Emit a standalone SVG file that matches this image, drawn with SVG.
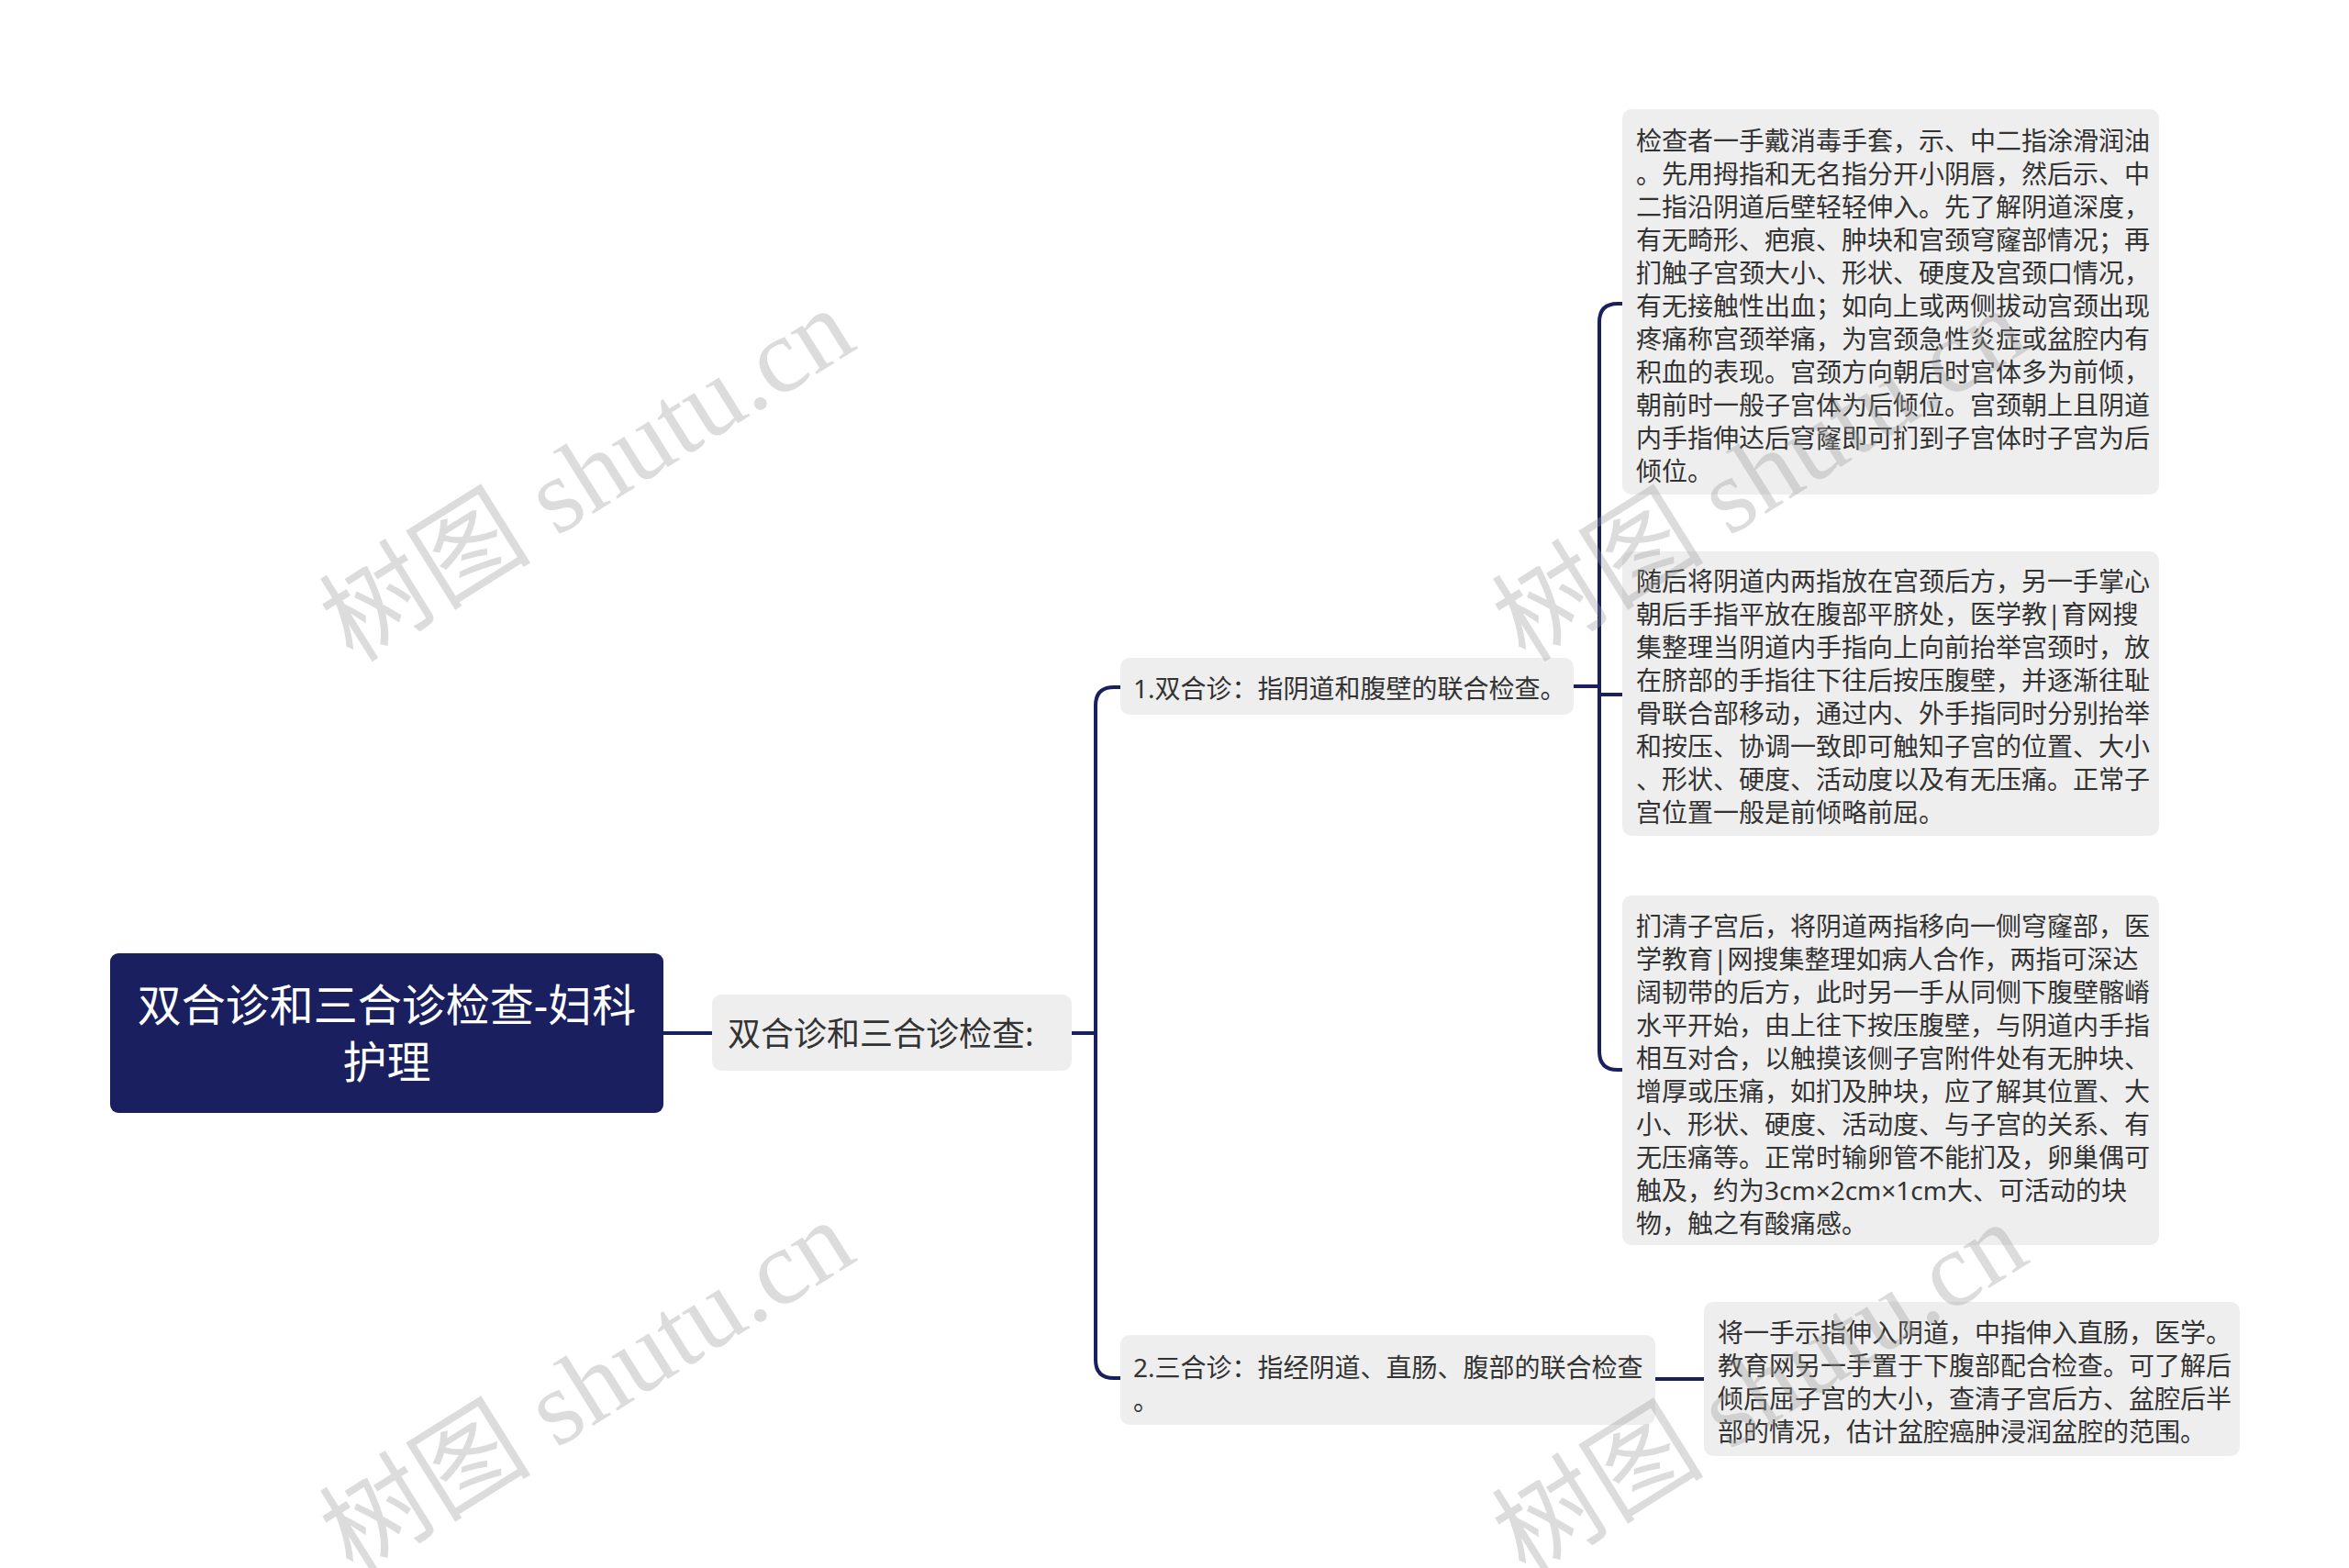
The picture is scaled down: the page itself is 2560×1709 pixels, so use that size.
<svg xmlns="http://www.w3.org/2000/svg" width="2560" height="1709" viewBox="0 0 2560 1709">
<style>
.bg{fill:#ffffff}
.root{fill:#1a1f5f}
.box{fill:#eeeeee}
.t{font-family:"Noto Sans","Noto Sans CJK SC",sans-serif;fill:#333333}
.rt{font-family:"Noto Sans","Noto Sans CJK SC",sans-serif;fill:#ffffff;font-size:48px}
.leaf{font-size:28px}
.conn{fill:none;stroke:#1a1f5f;stroke-width:4;stroke-linecap:butt}
.wm{font-family:"Liberation Serif","Noto Sans CJK SC",serif;font-size:116px;fill:#9a9a9a;fill-opacity:0.35}
</style>
<rect class="bg" x="0" y="0" width="2560" height="1709"/>
<g id="connectors">
<path class="conn" d="M723,1126 H776"/>
<path class="conn" d="M1168,1126 H1194"/>
<path class="conn" d="M1221,749 H1214 Q1194,749 1194,769 V1482 Q1194,1502 1214,1502 H1221"/>
<path class="conn" d="M1715,748 H1743"/>
<path class="conn" d="M1768,331 H1763 Q1743,331 1743,351 V1146 Q1743,1166 1763,1166 H1768"/>
<path class="conn" d="M1743,757 H1768"/>
<path class="conn" d="M1804,1503 H1857"/>
</g>
<g id="root">
<rect class="root" x="120" y="1039" width="603" height="174" rx="9"/>
<text class="rt" x="421.5" y="1113" text-anchor="middle">双合诊和三合诊检查-妇科</text>
<text class="rt" x="421.5" y="1175" text-anchor="middle">护理</text>
</g>
<g id="node-main">
<rect class="box" x="776" y="1084" width="392" height="83" rx="10"/>
<text class="t" x="793" y="1140" font-size="36">双合诊和三合诊检查:</text>
</g>
<g id="node-1">
<rect class="box" x="1221" y="717" width="494" height="62" rx="10"/>
<text class="t leaf" x="1235" y="761">1.双合诊：指阴道和腹壁的联合检查。</text>
</g>
<g id="node-2">
<rect class="box" x="1221" y="1455" width="583" height="98" rx="10"/>
<text class="t leaf" x="1235" y="1501">2.三合诊：指经阴道、直肠、腹部的联合检查</text>
<text class="t leaf" x="1235" y="1537">。</text>
</g>
<g id="leaf-1">
<rect class="box" x="1768" y="119" width="585" height="420" rx="10"/>
<text class="t leaf" x="1783" y="164">
<tspan x="1783" dy="0">检查者一手戴消毒手套，示、中二指涂滑润油</tspan>
<tspan x="1783" dy="36">。先用拇指和无名指分开小阴唇，然后示、中</tspan>
<tspan x="1783" dy="36">二指沿阴道后壁轻轻伸入。先了解阴道深度，</tspan>
<tspan x="1783" dy="36">有无畸形、疤痕、肿块和宫颈穹窿部情况；再</tspan>
<tspan x="1783" dy="36">扪触子宫颈大小、形状、硬度及宫颈口情况，</tspan>
<tspan x="1783" dy="36">有无接触性出血；如向上或两侧拔动宫颈出现</tspan>
<tspan x="1783" dy="36">疼痛称宫颈举痛，为宫颈急性炎症或盆腔内有</tspan>
<tspan x="1783" dy="36">积血的表现。宫颈方向朝后时宫体多为前倾，</tspan>
<tspan x="1783" dy="36">朝前时一般子宫体为后倾位。宫颈朝上且阴道</tspan>
<tspan x="1783" dy="36">内手指伸达后穹窿即可扪到子宫体时子宫为后</tspan>
<tspan x="1783" dy="36">倾位。</tspan>
</text>
</g>
<g id="leaf-2">
<rect class="box" x="1768" y="601" width="585" height="310" rx="10"/>
<text class="t leaf" x="1783" y="644">
<tspan x="1783" dy="0">随后将阴道内两指放在宫颈后方，另一手掌心</tspan>
<tspan x="1783" dy="36">朝后手指平放在腹部平脐处，医学教|育网搜</tspan>
<tspan x="1783" dy="36">集整理当阴道内手指向上向前抬举宫颈时，放</tspan>
<tspan x="1783" dy="36">在脐部的手指往下往后按压腹壁，并逐渐往耻</tspan>
<tspan x="1783" dy="36">骨联合部移动，通过内、外手指同时分别抬举</tspan>
<tspan x="1783" dy="36">和按压、协调一致即可触知子宫的位置、大小</tspan>
<tspan x="1783" dy="36">、形状、硬度、活动度以及有无压痛。正常子</tspan>
<tspan x="1783" dy="36">宫位置一般是前倾略前屈。</tspan>
</text>
</g>
<g id="leaf-3">
<rect class="box" x="1768" y="976" width="585" height="381" rx="10"/>
<text class="t leaf" x="1783" y="1020">
<tspan x="1783" dy="0">扪清子宫后，将阴道两指移向一侧穹窿部，医</tspan>
<tspan x="1783" dy="36">学教育|网搜集整理如病人合作，两指可深达</tspan>
<tspan x="1783" dy="36">阔韧带的后方，此时另一手从同侧下腹壁髂嵴</tspan>
<tspan x="1783" dy="36">水平开始，由上往下按压腹壁，与阴道内手指</tspan>
<tspan x="1783" dy="36">相互对合，以触摸该侧子宫附件处有无肿块、</tspan>
<tspan x="1783" dy="36">增厚或压痛，如扪及肿块，应了解其位置、大</tspan>
<tspan x="1783" dy="36">小、形状、硬度、活动度、与子宫的关系、有</tspan>
<tspan x="1783" dy="36">无压痛等。正常时输卵管不能扪及，卵巢偶可</tspan>
<tspan x="1783" dy="36">触及，约为3cm×2cm×1cm大、可活动的块</tspan>
<tspan x="1783" dy="36">物，触之有酸痛感。</tspan>
</text>
</g>
<g id="leaf-4">
<rect class="box" x="1857" y="1419" width="584" height="168" rx="10"/>
<text class="t leaf" x="1872" y="1463">
<tspan x="1872" dy="0">将一手示指伸入阴道，中指伸入直肠，医学。</tspan>
<tspan x="1872" dy="36">教育网另一手置于下腹部配合检查。可了解后</tspan>
<tspan x="1872" dy="36">倾后屈子宫的大小，查清子宫后方、盆腔后半</tspan>
<tspan x="1872" dy="36">部的情况，估计盆腔癌肿浸润盆腔的范围。</tspan>
</text>
</g>
<g id="watermarks">
<text class="wm" x="640" y="518" text-anchor="middle" dominant-baseline="central" transform="rotate(-32 640 518)">树图 shutu.cn</text>
<text class="wm" x="1918" y="518" text-anchor="middle" dominant-baseline="central" transform="rotate(-32 1918 518)">树图 shutu.cn</text>
<text class="wm" x="640" y="1512" text-anchor="middle" dominant-baseline="central" transform="rotate(-32 640 1512)">树图 shutu.cn</text>
<text class="wm" x="1918" y="1514" text-anchor="middle" dominant-baseline="central" transform="rotate(-32 1918 1514)">树图 shutu.cn</text>
</g>
</svg>
